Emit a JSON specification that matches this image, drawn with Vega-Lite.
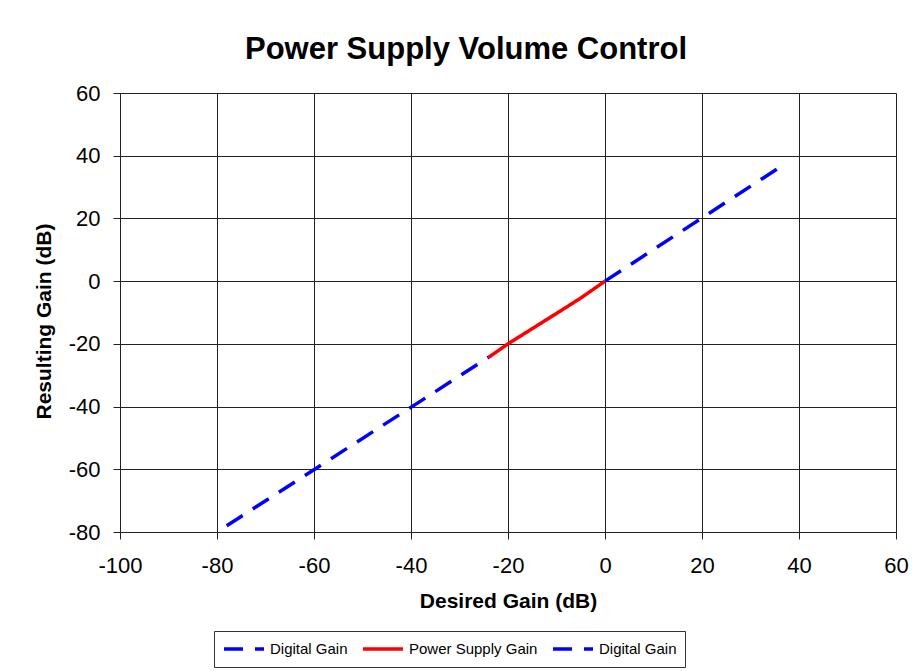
{
  "$schema": "https://vega.github.io/schema/vega-lite/v6.json",
  "autosize": "none",
  "width": 776,
  "height": 439,
  "padding": {"left": 120, "top": 93, "right": 19, "bottom": 139},
  "background": "white",
  "title": {
    "text": "Power Supply Volume Control",
    "font": "Liberation Sans",
    "fontSize": 31,
    "fontWeight": "bold",
    "color": "black",
    "anchor": "middle",
    "dx": -42,
    "offset": 16
  },
  "data": {
    "values": [
      {"desired": -78, "result": -78, "series": "Digital Gain A", "seg": "a"},
      {"desired": -24, "result": -24.3, "series": "Digital Gain A", "seg": "a"},
      {"desired": -24, "result": -24.3, "series": "Power Supply Gain", "seg": "b"},
      {"desired": -20, "result": -20, "series": "Power Supply Gain", "seg": "b"},
      {"desired": -10, "result": -10.3, "series": "Power Supply Gain", "seg": "b"},
      {"desired": -5, "result": -5.4, "series": "Power Supply Gain", "seg": "b"},
      {"desired": 0, "result": 0, "series": "Power Supply Gain", "seg": "b"},
      {"desired": 0, "result": 0, "series": "Digital Gain B", "seg": "c"},
      {"desired": 36, "result": 36.3, "series": "Digital Gain B", "seg": "c"}
    ]
  },
  "mark": {"type": "line", "strokeWidth": 3.5, "clip": true},
  "encoding": {
    "x": {
      "field": "desired",
      "type": "quantitative",
      "title": "Desired Gain (dB)",
      "scale": {"domain": [-100, 60], "nice": false, "zero": false},
      "axis": {"values": [-100, -80, -60, -40, -20, 0, 20, 40, 60], "titlePadding": 14, "labelPadding": 16, "labelFlush": false, "labelOverlap": false, "labelExpr": "'' + datum.value"}
    },
    "y": {
      "field": "result",
      "type": "quantitative",
      "title": "Resulting Gain (dB)",
      "scale": {"domain": [-80, 60], "nice": false, "zero": false},
      "axis": {"values": [-80, -60, -40, -20, 0, 20, 40, 60], "titlePadding": 14, "labelPadding": 13, "labelFlush": false, "labelOverlap": false, "titleY": 228, "labelExpr": "'' + datum.value"}
    },
    "color": {
      "field": "series",
      "type": "nominal",
      "scale": {"domain": ["Digital Gain A", "Power Supply Gain", "Digital Gain B"], "range": ["#0000ff", "#ff0000", "#0000ff"]},
      "legend": {
        "title": null,
        "orient": "none",
        "legendX": 94,
        "legendY": 538,
        "direction": "horizontal",
        "labelExpr": "replace(datum.label, / [AB]$/, '')",
        "symbolType": "stroke",
        "symbolSize": 1600,
        "symbolStrokeWidth": 3.5,
        "clipHeight": 20,
        "labelFont": "Liberation Sans",
        "labelFontSize": 15,
        "labelColor": "black",
        "labelOffset": 4,
        "columnPadding": 13,
        "padding": 8,
        "strokeColor": "#333",
        "fillColor": "white"
      }
    },
    "strokeDash": {
      "field": "series",
      "type": "nominal",
      "scale": {"domain": ["Digital Gain A", "Power Supply Gain", "Digital Gain B"], "range": [[19, 12], [1, 0], [19, 12]]},
      "legend": {
        "title": null,
        "orient": "none",
        "legendX": 94,
        "legendY": 538,
        "direction": "horizontal",
        "labelExpr": "replace(datum.label, / [AB]$/, '')",
        "symbolType": "stroke",
        "symbolSize": 1600,
        "symbolStrokeWidth": 3.5,
        "clipHeight": 20,
        "labelFont": "Liberation Sans",
        "labelFontSize": 15,
        "labelColor": "black",
        "labelOffset": 4,
        "columnPadding": 13,
        "padding": 8,
        "strokeColor": "#333",
        "fillColor": "white"
      }
    },
    "detail": {"field": "seg"}
  },
  "config": {
    "view": {"stroke": null},
    "axis": {
      "grid": true,
      "gridColor": "#222",
      "gridOpacity": 1,
      "gridWidth": 1,
      "domainColor": "#222",
      "domainWidth": 1,
      "tickColor": "#222",
      "tickSize": 7,
      "labelFont": "Liberation Sans",
      "labelFontSize": 22,
      "labelColor": "black",
      "titleFont": "Liberation Sans",
      "titleFontSize": 21,
      "titleFontWeight": "bold",
      "titleColor": "black"
    }
  }
}
